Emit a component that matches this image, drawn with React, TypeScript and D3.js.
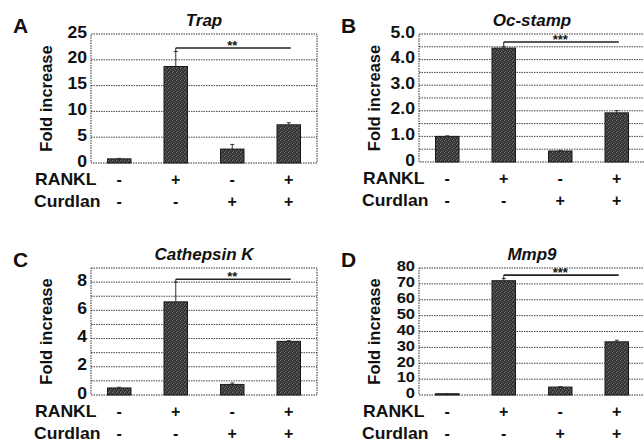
import * as d3 from 'd3';

// conditions along the x axis
const groups = ['g1', 'g2', 'g3', 'g4'];
const rankl = ['-', '+', '-', '+'];
const curdlan = ['-', '-', '+', '+'];

// A: Trap
const trapValues = [0.8, 18.7, 2.7, 7.4];
const trapErrors = [0.1, 2.9, 0.9, 0.4];
const trapTicks = [0, 5, 10, 15, 20, 25];
const trapTickLabels = ['0', '5', '10', '15', '20', '25'];
const trapGrid = [5, 10, 15, 20];

// B: Oc-stamp
const ocValues = [1.0, 4.45, 0.43, 1.92];
const ocErrors = [0.02, 0.05, 0.02, 0.09];
const ocTicks = [0, 1, 2, 3, 4, 5];
const ocTickLabels = ['0', '1.0', '2.0', '3.0', '4.0', '5.0'];
const ocGrid = [0.5, 1, 1.5, 2, 2.5, 3, 3.5, 4, 4.5];

// C: Cathepsin K
const ctskValues = [0.5, 6.6, 0.75, 3.8];
const ctskErrors = [0.05, 1.4, 0.1, 0.05];
const ctskTicks = [0, 2, 4, 6, 8];
const ctskTickLabels = ['0', '2', '4', '6', '8'];
const ctskGrid = [1, 2, 3, 4, 5, 6, 7, 8];

// D: Mmp9
const mmpValues = [0.8, 72, 5, 33.5];
const mmpErrors = [0.1, 1.3, 0.3, 1.0];
const mmpTicks = [0, 10, 20, 30, 40, 50, 60, 70, 80];
const mmpTickLabels = ['0', '10', '20', '30', '40', '50', '60', '70', '80'];
const mmpGrid = [10, 20, 30, 40, 50, 60, 70];

type PanelCfg = {
  letter: string; title: string; values: number[]; errors: number[];
  ticks: number[]; tickLabels: string[]; grid: number[]; max: number;
  sig: number; stars: string; x0: number; top: number; bottom: number;
  tickSize: number;
};

const panels: PanelCfg[] = [
  { letter: 'A', title: 'Trap', values: trapValues, errors: trapErrors, ticks: trapTicks, tickLabels: trapTickLabels,
    grid: trapGrid, max: 25, sig: 22.3, stars: '**', x0: 91, top: 34, bottom: 163, tickSize: 16 },
  { letter: 'B', title: 'Oc-stamp', values: ocValues, errors: ocErrors, ticks: ocTicks, tickLabels: ocTickLabels,
    grid: ocGrid, max: 5, sig: 4.69, stars: '***', x0: 419, top: 34, bottom: 162, tickSize: 16 },
  { letter: 'C', title: 'Cathepsin K', values: ctskValues, errors: ctskErrors, ticks: ctskTicks, tickLabels: ctskTickLabels,
    grid: ctskGrid, max: 9, sig: 8.2, stars: '**', x0: 91, top: 268, bottom: 395, tickSize: 16 },
  { letter: 'D', title: 'Mmp9', values: mmpValues, errors: mmpErrors, ticks: mmpTicks, tickLabels: mmpTickLabels,
    grid: mmpGrid, max: 80, sig: 75.5, stars: '***', x0: 419, top: 268, bottom: 395, tickSize: 15 },
];

const plotW = 226;
const barW = 23.5;
const font = '"Liberation Sans", Arial, sans-serif';

// slightly widened bold text, like the scanned figure
function Wide({ x, y, size, anchor = 'start', children }: { x: number; y: number; size: number; anchor?: string; children: string }) {
  return (
    <text transform={`translate(${x},${y}) scale(1.1,1)`} fontSize={size} textAnchor={anchor}>{children}</text>
  );
}

function Panel({ p }: { p: PanelCfg }) {
  const x = d3.scalePoint<string>().domain(groups).range([p.x0, p.x0 + plotW]).padding(0.5);
  const y = d3.scaleLinear().domain([0, p.max]).range([p.bottom, p.top]);
  const cx = (i: number) => x(groups[i]) as number;
  const x1 = p.x0 + plotW;
  const midY = (p.top + p.bottom) / 2;
  const sigY = y(p.sig);
  const errTop = y(p.values[1] + p.errors[1]);
  return (
    <g fontFamily={font} fontWeight="bold" fill="#111">
      <text x={p.x0 - 78} y={p.top - 1} fontSize={21}>{p.letter}</text>
      <text x={p.x0 + plotW / 2} y={p.top - 8} fontSize={17} fontStyle="italic" textAnchor="middle">{p.title}</text>
      <text transform={`translate(${p.x0 - 39},${midY}) rotate(-90)`} fontSize={16.5} textAnchor="middle">Fold increase</text>
      {/* grid */}
      {p.grid.map((g) => (
        <line key={g} x1={p.x0} x2={x1} y1={y(g)} y2={y(g)} stroke="#444" strokeWidth={1} strokeDasharray="1.5 1" />
      ))}
      <rect x={p.x0} y={p.top} width={plotW} height={p.bottom - p.top} fill="none" stroke="#333" strokeWidth={1} strokeDasharray="1.5 1" />
      {/* ticks */}
      {p.ticks.map((t, i) => (
        <Wide key={t} x={p.x0 - 4} y={y(t) + p.tickSize * 0.22} size={p.tickSize} anchor="end">{p.tickLabels[i]}</Wide>
      ))}
      {/* bars */}
      {p.values.map((v, i) => (
        <rect key={i} x={cx(i) - barW / 2} y={y(v)} width={barW} height={p.bottom - y(v)} fill="url(#grain)" stroke="#1a1a1a" strokeWidth={1} />
      ))}
      {/* error bars */}
      {p.values.map((v, i) => (
        <g key={'e' + i} stroke="#333" strokeWidth={1}>
          <line x1={cx(i)} x2={cx(i)} y1={y(v)} y2={y(v + p.errors[i])} />
          <line x1={cx(i) - 2} x2={cx(i) + 2} y1={y(v + p.errors[i])} y2={y(v + p.errors[i])} />
        </g>
      ))}
      {/* significance */}
      <g stroke="#222" strokeWidth={1.6}>
        <line x1={cx(1)} x2={cx(3) + 2} y1={sigY} y2={sigY} />
        <line x1={cx(1)} x2={cx(1)} y1={sigY} y2={errTop} strokeWidth={1} />
      </g>
      <text x={cx(2)} y={sigY + 2} fontSize={13} textAnchor="middle">{p.stars}</text>
      {/* condition rows */}
      <Wide x={p.x0 - 56} y={p.bottom + 22} size={16}>RANKL</Wide>
      <Wide x={p.x0 - 57} y={p.bottom + 44} size={16}>Curdlan</Wide>
      {rankl.map((s, i) => (
        <text key={'r' + i} x={cx(i)} y={p.bottom + 22} fontSize={16} textAnchor="middle">{s}</text>
      ))}
      {curdlan.map((s, i) => (
        <text key={'c' + i} x={cx(i)} y={p.bottom + 44} fontSize={16} textAnchor="middle">{s}</text>
      ))}
    </g>
  );
}

export default function App() {
  return (
    <svg width={644} height={443} style={{ display: 'block', position: 'absolute', left: 0, top: 0, background: '#fff' }}>
      <defs>
        <pattern id="grain" width={4} height={4} patternUnits="userSpaceOnUse">
          <rect width={4} height={4} fill="#353535" />
          <rect x={0} y={0} width={1} height={1} fill="#777" />
          <rect x={2} y={1} width={1} height={1} fill="#666" />
          <rect x={1} y={3} width={1} height={1} fill="#707070" />
          <rect x={3} y={2} width={1} height={1} fill="#5a5a5a" />
        </pattern>
      </defs>
      {panels.map((p) => <Panel key={p.letter} p={p} />)}
    </svg>
  );
}
